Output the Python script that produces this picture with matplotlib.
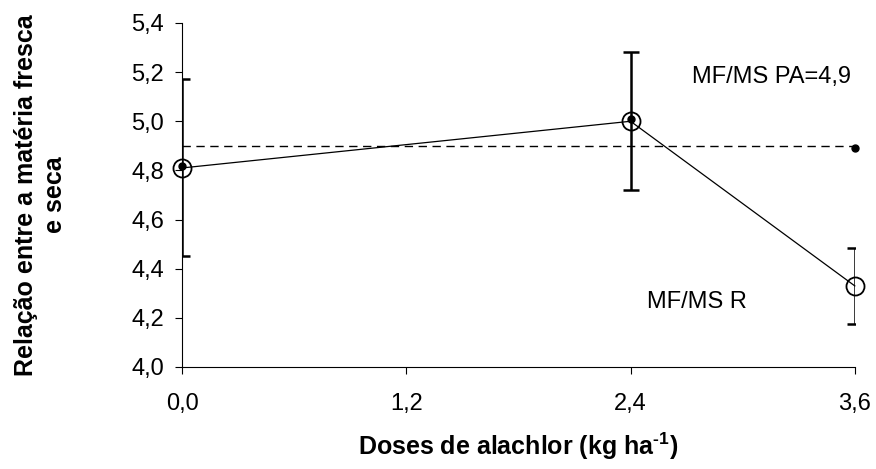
import matplotlib
matplotlib.use("Agg")
import matplotlib.pyplot as plt
from matplotlib.ticker import FuncFormatter

plt.rcParams['font.family'] = ['Liberation Sans', 'DejaVu Sans']
plt.rcParams['mathtext.fontset'] = 'custom'
plt.rcParams['mathtext.rm'] = 'Liberation Sans:bold'

# doses de alachlor (kg/ha)
doses = [0.0, 2.4, 3.6]
# razão MF/MS nas plantas tratadas (R) com desvio
mfms_r = [4.81, 5.00, 4.33]
mfms_r_err = [0.36, 0.28, 0.155]
# razão MF/MS da parte aérea (PA) e sua média
mfms_pa = [4.82, 5.01, 4.89]
pa_media = 4.9

x_ticks = [0.0, 1.2, 2.4, 3.6]
y_ticks = [4.0, 4.2, 4.4, 4.6, 4.8, 5.0, 5.2, 5.4]

fig = plt.figure(figsize=(8.76, 4.69), dpi=100)
ax = fig.add_axes([0.2078, 0.2175, 0.768, 0.7335])

ax.plot([doses[0], doses[-1]], [pa_media, pa_media], color='black',
        linestyle=(0, (6, 4)), linewidth=1, zorder=2)

ax.errorbar(doses, mfms_r, yerr=mfms_r_err, fmt='none', ecolor='black',
            elinewidth=1.8, capsize=6, capthick=1.8, zorder=3)
ax.plot(doses, mfms_r, color='black', linewidth=0.9, marker='o',
        markersize=13, markerfacecolor='none', markeredgecolor='black',
        markeredgewidth=1.3, zorder=4, clip_on=False)
ax.plot(doses, mfms_pa, linestyle='none', marker='o', markersize=5,
        color='black', zorder=5, clip_on=False)

ax.text(2.73, 5.18, 'MF/MS PA=4,9', fontsize=17, va='center', ha='left')
ax.text(2.49, 4.265, 'MF/MS R', fontsize=17, va='center', ha='left')

ax.set_xlim(0, 3.6)
ax.set_ylim(4.0, 5.4)
ax.set_xticks(x_ticks)
ax.set_yticks(y_ticks)
comma = FuncFormatter(lambda v, p: f'{v:.1f}'.replace('.', ','))
ax.xaxis.set_major_formatter(comma)
ax.yaxis.set_major_formatter(comma)
ax.tick_params(axis='both', direction='out', length=5, width=0.8,
               labelsize=17, colors='black')
ax.tick_params(axis='x', pad=14)
ax.tick_params(axis='y', pad=8)

for side in ['top', 'right']:
    ax.spines[side].set_visible(False)
for side in ['left', 'bottom']:
    ax.spines[side].set_linewidth(0.8)

ax.set_xlabel('Doses de alachlor (kg ha$^{\\text{-1}}$)', fontsize=18,
              fontweight='bold', labelpad=11)
ax.set_ylabel('Relação entre a matéria fresca\ne seca', fontsize=18,
              fontweight='bold', labelpad=46, linespacing=1.25)

fig.savefig('out.png', dpi=100)
